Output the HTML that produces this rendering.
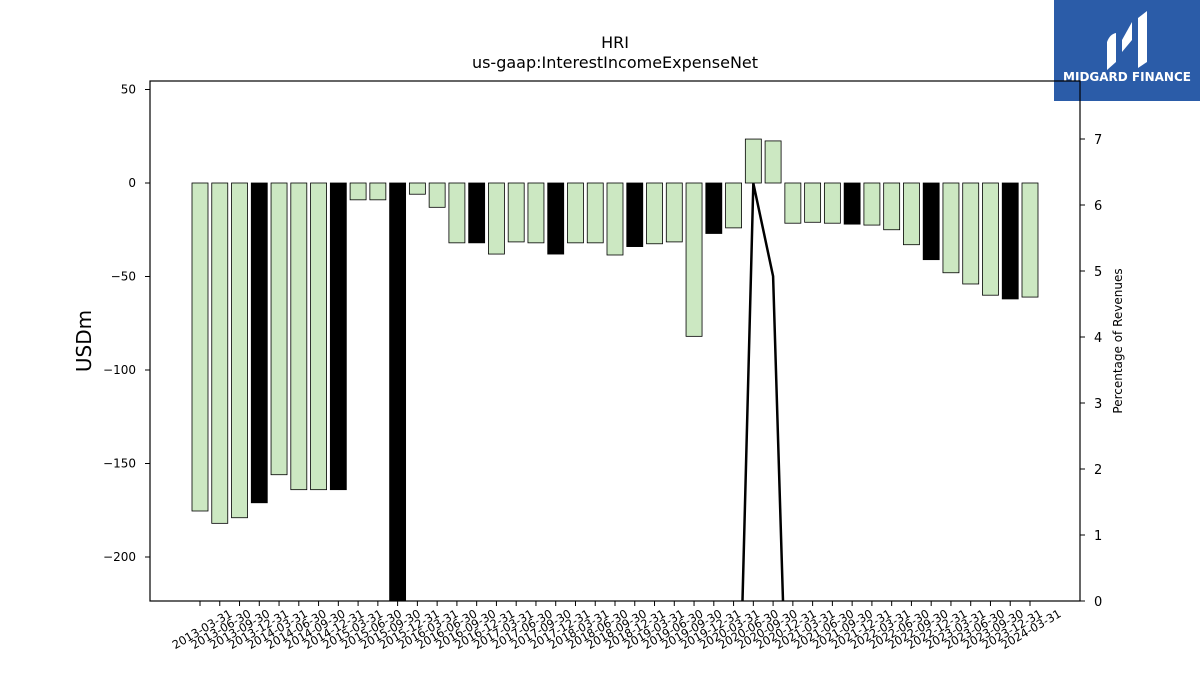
<!DOCTYPE html>
<html><head><meta charset="utf-8"><style>
html,body{margin:0;background:#fff;font-family:"Liberation Sans","DejaVu Sans",sans-serif;overflow:hidden;width:1200px;height:675px}
svg{display:block}
svg text{font-family:"DejaVu Sans","Liberation Sans",sans-serif}
</style></head><body>
<svg id="c" width="1200" height="675">
<rect x="1054" y="0" width="146" height="101" fill="#2b5ca8"/>
<g fill="#fff">
<path d="M1107 70 L1107 42 Q1110 34 1116 33 L1116 62 Z"/><path d="M1122 40 L1132 22 L1132 40 L1122 52 Z"/><path d="M1138 68 L1138 18 L1147 11 L1147 62 Z"/>
</g>
<text x="1127" y="81" fill="#fff" font-size="12" font-weight="bold" text-anchor="middle">MIDGARD FINANCE</text>
<text x="615" y="48" font-size="16" text-anchor="middle">HRI</text>
<text x="615" y="68" font-size="16" text-anchor="middle">us-gaap:InterestIncomeExpenseNet</text>
<text transform="translate(91,341) rotate(-90)" font-size="20" text-anchor="middle">USDm</text>
<text transform="translate(1122,341) rotate(-90)" font-size="12" text-anchor="middle">Percentage of Revenues</text>
<g id="plot"></g>
</svg>
<script>
const labels=[];
(function(){const e=["03-31","06-30","09-30","12-31"];for(let y=2013;y<=2024;y++)for(let q=0;q<4;q++)if(labels.length<45)labels.push(y+"-"+e[q]);})();
const values=[-175.4,-182,-179,-171,-156,-164,-164,-164,-9,-9,-230,-6,-13,-32,-32,-38,-31.5,-32,-38,-32,-32,-38.5,-34,-32.5,-31.5,-82,-27,-24,23.5,22.5,-21.5,-21,-21.5,-22,-22.5,-25,-33,-41,-48,-54,-60,-62,-61];
const highlight=[3,7,10,14,18,22,26,33,37,41];
const pctValues=[];for(let i=0;i<43;i++)pctValues.push(null);
pctValues[27]=-5.2;pctValues[28]=6.33;pctValues[29]=4.92;pctValues[30]=-4.9;
const leftTicks=[50,0,-50,-100,-150,-200];
const rightTicks=[0,1,2,3,4,5,6,7];
const X0=150,X1=1080,Y0=81,Y1=601;
const y=v=>183-1.87*v;
const y2=v=>601-66*v;
const x=i=>200+i*(1030-200)/42;
const lx=i=>233+i*(1062-233)/44;
const NS="http://www.w3.org/2000/svg";
const g=document.getElementById('plot');
function mk(t,a){const e=document.createElementNS(NS,t);for(const k in a)e.setAttribute(k,a[k]);g.appendChild(e);return e;}
const cp=mk('clipPath',{id:'cl'});const cr=document.createElementNS(NS,'rect');cr.setAttribute('x',X0);cr.setAttribute('y',Y0);cr.setAttribute('width',X1-X0);cr.setAttribute('height',Y1-Y0);cp.appendChild(cr);
values.forEach((v,i)=>{const r=mk('rect',{x:x(i)-8,y:Math.min(y(v),y(0)),width:16,height:Math.abs(y(v)-y(0)),fill:highlight.includes(i)?'#000':'#cce8c2',stroke:'#000','stroke-width':0.8,'clip-path':'url(#cl)'});


mk('line',{x1:x(i),x2:x(i),y1:Y1,y2:Y1+5,stroke:'#000'});});
let d='';pctValues.forEach((v,i)=>{if(v===null)return;d+=(d?'L':'M')+x(i)+' '+y2(v)+' ';});
const ln=mk('path',{d:d,fill:'none',stroke:'#000','stroke-width':2.5,'clip-path':'url(#cl)'});


const fr=mk('rect',{x:X0,y:Y0,width:X1-X0,height:Y1-Y0,fill:'none',stroke:'#000','stroke-width':1.2});


leftTicks.forEach(t=>{mk('line',{x1:X0-5,x2:X0,y1:y(t),y2:y(t),stroke:'#000'});
const tx=mk('text',{x:X0-14,y:y(t)+4,'font-size':12,'text-anchor':'end'});tx.textContent=(t<0?'\u2212':'')+Math.abs(t);

});
rightTicks.forEach(t=>{mk('line',{x1:X1,x2:X1+5,y1:y2(t),y2:y2(t),stroke:'#000'});
const tx=mk('text',{x:X1+14,y:y2(t)+5,'font-size':13});tx.textContent=t;

});
labels.forEach((l,i)=>{
const tx=mk('text',{transform:`translate(${lx(i)},${Y1+15}) rotate(-30)`,'font-size':11.5,'text-anchor':'end'});tx.textContent=l;

});
</script>
</body></html>
